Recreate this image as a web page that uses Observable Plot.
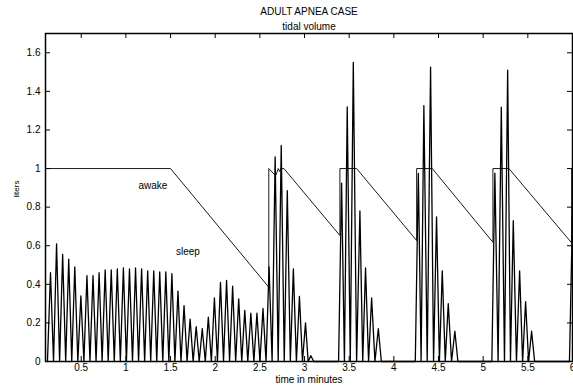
<!DOCTYPE html>
<html><head><meta charset="utf-8">
<script src="https://cdn.jsdelivr.net/npm/d3@7"></script>
<script src="https://cdn.jsdelivr.net/npm/@observablehq/plot@0.6"></script>
<style>body{margin:0;background:#fff} svg{display:block}</style>
</head><body><div id="chart"></div>
<script>
// sleep: breath peak times (minutes) and tidal volumes (liters)
const peakTimes = [
  0.156, 0.224, 0.292, 0.360, 0.428, 0.496, 0.564, 0.632, 0.700, 0.768, 0.836, 0.904, 0.972, 1.040, 1.108, 1.176,
  1.244, 1.312, 1.379, 1.447, 1.515, 1.583, 1.651, 1.719, 1.787, 1.855, 1.923, 1.991, 2.059, 2.127, 2.195, 2.263,
  2.331, 2.399, 2.467, 2.535, 2.603, 2.671, 2.739, 2.807, 2.875, 2.943, 3.011, 3.070,
  3.415, 3.478, 3.546, 3.620, 3.683, 3.751, 3.826,
  4.274, 4.336, 4.411, 4.478, 4.542, 4.609, 4.683,
  5.131, 5.203, 5.274, 5.337, 5.408, 5.475, 5.542,
  6.000
];
const peakValues = [
  0.46, 0.61, 0.555, 0.53, 0.49, 0.34, 0.445, 0.445, 0.46, 0.475, 0.475, 0.48, 0.485, 0.48, 0.485, 0.48,
  0.47, 0.47, 0.465, 0.465, 0.455, 0.365, 0.29, 0.22, 0.18, 0.17, 0.23, 0.33, 0.41, 0.42, 0.39, 0.325,
  0.265, 0.25, 0.25, 0.275, 0.49, 1.06, 1.12, 0.885, 0.48, 0.337, 0.20, 0.03,
  0.925, 1.32, 1.55, 0.78, 0.485, 0.33, 0.17,
  0.975, 1.326, 1.525, 0.75, 0.47, 0.30, 0.157,
  0.976, 1.318, 1.51, 0.73, 0.47, 0.31, 0.157,
  0.77
];
// awake reference line
const awakeTimes  = [0.1, 1.5, 2.600, 2.600, 2.676, 2.706, 2.720, 2.735, 2.769, 3.396, 3.396, 3.583, 4.255, 4.255, 4.430, 5.109, 5.109, 5.288, 5.990, 5.990, 6.0];
const awakeValues = [1.0, 1.0, 0.385, 1.0, 0.963, 1.0, 0.985, 1.0, 1.0, 0.653, 1.0, 1.0, 0.627, 1.0, 1.0, 0.618, 1.0, 1.0, 0.615, 1.0, 1.0];

const xTicks = [0.5, 1, 1.5, 2, 2.5, 3, 3.5, 4, 4.5, 5, 5.5, 6];
const yTicks = [0, 0.2, 0.4, 0.6, 0.8, 1, 1.2, 1.4, 1.6];
const labelTexts = ["awake", "sleep"];
const labelTimes = [1.141, 1.56];
const labelValues = [0.91, 0.57];
const titleText = "ADULT APNEA CASE";
const subtitleText = "tidal volume";
const xLabel = "time in minutes";
const yLabel = "liters";

// build the breathing trace: each breath rises from zero to its peak and returns to zero
const sleep = [];
for (let i = 0; i < peakTimes.length; i++) {
  const t = peakTimes[i], prev = peakTimes[i - 1], next = peakTimes[i + 1];
  const joinedPrev = prev !== undefined && t - prev < 0.1;
  const joinedNext = next !== undefined && next - t < 0.1;
  if (!joinedPrev) sleep.push({t: t - 0.034, v: 0});
  sleep.push({t, v: peakValues[i]});
  const after = joinedNext ? (t + next) / 2 : t + 0.034;
  if (after <= 6) sleep.push({t: after, v: 0});
}
const awake = awakeTimes.map((t, i) => ({t, v: awakeValues[i]}));
const labels = labelTexts.map((s, i) => ({s, t: labelTimes[i], v: labelValues[i]}));
const fmt = d3.format("~g");

const W = 573, H = 387, ML = 45, MR = 1, MT = 33, MB = 26, TICK = 5;
const innerW = W - ML - MR, innerH = H - MT - MB;

const chart = Plot.plot({
  width: W, height: H,
  marginLeft: ML, marginRight: MR, marginTop: MT, marginBottom: MB,
  style: {fontFamily: "'Liberation Sans', Arial, sans-serif", fontSize: "10px", background: "white", color: "black"},
  x: {domain: [0.1, 6]},
  y: {domain: [0, 1.7]},
  marks: [
    Plot.line(sleep, {x: "t", y: "v", stroke: "black", strokeWidth: 1.3}),
    Plot.line(awake, {x: "t", y: "v", stroke: "black", strokeWidth: 0.9}),
    Plot.text(labels, {x: "t", y: "v", text: "s", textAnchor: "start", fontSize: 10}),
    // inward ticks on all four sides (MATLAB style)
    Plot.ruleX(xTicks, {x: d => d, insetTop: innerH - TICK, stroke: "black"}),
    Plot.ruleX(xTicks, {x: d => d, insetBottom: innerH - TICK, stroke: "black"}),
    Plot.ruleY(yTicks, {y: d => d, insetRight: innerW - TICK, stroke: "black"}),
    Plot.ruleY(yTicks, {y: d => d, insetLeft: innerW - TICK, stroke: "black"}),
    Plot.frame({stroke: "black", strokeWidth: 1.5}),
    Plot.axisX({anchor: "bottom", ticks: xTicks, tickSize: 0, tickPadding: 2, tickFormat: fmt, label: null}),
    Plot.axisY({anchor: "left", ticks: yTicks, tickSize: 0, tickPadding: 5, tickFormat: fmt, label: null}),
    Plot.text([xLabel], {frameAnchor: "bottom", dy: 21, fontSize: 10}),
    Plot.text([yLabel], {frameAnchor: "left", dx: -29, rotate: -90, fontSize: 8}),
    Plot.text([titleText], {frameAnchor: "top", dy: -26, fontSize: 10}),
    Plot.text([subtitleText], {frameAnchor: "top", dy: -11, fontSize: 10})
  ]
});
document.getElementById("chart").appendChild(chart);
</script>
</body></html>
